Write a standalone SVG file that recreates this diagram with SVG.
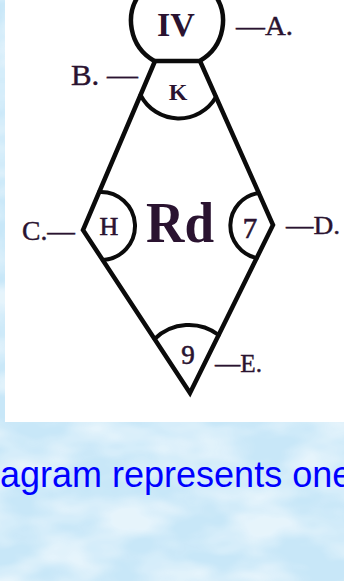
<svg xmlns="http://www.w3.org/2000/svg" width="344" height="581" viewBox="0 0 344 581">
  <defs>
    <filter id="water" x="0" y="0" width="100%" height="100%">
      <feTurbulence type="fractalNoise" baseFrequency="0.014 0.028" numOctaves="3" seed="11" result="n"/>
      <feColorMatrix in="n" type="matrix" values="0 0 0 0 1  0 0 0 0 1  0 0 0 0 1  0 0 0 -2.4 1.6" result="w"/>
      <feComposite in="w" in2="SourceGraphic" operator="in"/>
    </filter>
    <style>
      .edge { fill: none; stroke: #0b0b0b; stroke-width: 4.5; stroke-linejoin: miter; stroke-linecap: round; }
      .arc { fill: none; stroke: #0b0b0b; stroke-width: 4; stroke-linecap: round; }
      .lbl { font-family: "Liberation Serif", "DejaVu Serif", serif; fill: #2a1330; stroke: #2a1330; stroke-width: 0.4; }
      .inner { font-family: "Liberation Serif", "DejaVu Serif", serif; fill: #2a1330; text-anchor: middle; }
      .thin { stroke: #2a1330; stroke-width: 0.6; }
      .caption { font-family: "Liberation Sans", Arial, sans-serif; font-size: 36px; fill: #0000ff; }
    </style>
  </defs>

  <!-- background -->
  <rect x="0" y="0" width="344" height="581" fill="#c8e7f8"/>
  <rect x="0" y="0" width="344" height="581" fill="#ffffff" filter="url(#water)" opacity="0.55"/>

  <!-- white panel -->
  <rect x="5" y="0" width="339" height="422" fill="#ffffff"/>

  <!-- connectors: diamond edges -->
  <g id="connectors">
    <path class="edge" d="M155,61 L83,230 L190,393 L273,225 L200,61"/>
  </g>

  <g id="node-IV">
    <path class="edge" d="M154.3,61 A46,46 0 1 1 199.7,61 Z"/>
    <text class="inner" x="176" y="36" font-size="34" font-weight="bold">IV</text>
  </g>

  <g id="node-K">
    <path class="arc" d="M140.5,95 A43,43 0 0 0 216,97"/>
    <text class="inner" x="178" y="100" font-size="24" font-weight="bold">K</text>
  </g>

  <g id="node-H">
    <path class="arc" d="M99.2,192 A34,34 0 0 1 102.7,260"/>
    <text class="inner thin" x="109" y="235" font-size="26">H</text>
  </g>

  <g id="node-7">
    <path class="arc" d="M258.8,193 A33,33 0 0 0 256.7,258"/>
    <text class="inner thin" x="250" y="238" font-size="29">7</text>
  </g>

  <g id="node-9">
    <path class="arc" d="M154.6,339 A49,49 0 0 1 218.7,335"/>
    <text class="inner thin" x="188" y="364" font-size="27">9</text>
  </g>

  <g id="node-Rd">
    <text class="inner" x="180" y="242" font-size="58" font-weight="bold" textLength="68" lengthAdjust="spacingAndGlyphs">Rd</text>
  </g>

  <g id="label-A">
    <text class="lbl" x="236" y="35" font-size="28" textLength="57" lengthAdjust="spacingAndGlyphs">—A.</text>
  </g>
  <g id="label-B">
    <text class="lbl" x="71" y="85" font-size="30" textLength="67" lengthAdjust="spacingAndGlyphs">B. —</text>
  </g>
  <g id="label-C">
    <text class="lbl" x="22" y="240" font-size="27" textLength="53" lengthAdjust="spacingAndGlyphs">C.—</text>
  </g>
  <g id="label-D">
    <text class="lbl" x="286" y="234" font-size="26" textLength="54" lengthAdjust="spacingAndGlyphs">—D.</text>
  </g>
  <g id="label-E">
    <text class="lbl" x="215" y="372" font-size="25" textLength="47" lengthAdjust="spacingAndGlyphs">—E.</text>
  </g>

  <text class="caption" x="0" y="487">agram represents one</text>
</svg>
